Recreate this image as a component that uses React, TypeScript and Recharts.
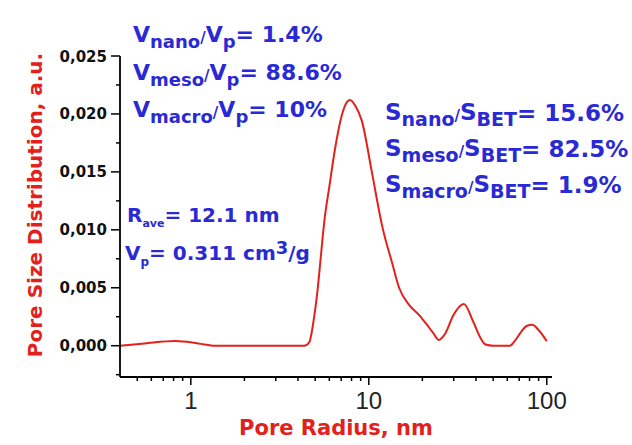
// Pore size distribution chart
import { Line, LineChart, XAxis, YAxis } from 'recharts';

// Data
const radius = [0.4, 0.55, 0.82, 1.1, 1.38, 2, 3, 4, 4.34, 4.63, 4.9, 5.17, 5.4, 5.63, 6.0, 6.43, 7.03, 7.45, 7.84, 8.4, 9.14, 10.4, 11.9, 13.6, 14.8, 16.9, 19.3, 21, 23, 24.7, 27, 29.8, 34.2, 38.8, 42, 45.3, 50, 55, 62, 66, 71.8, 77, 83, 89.4, 95, 100];
const psd = [0.0, 0.0002, 0.0004, 0.0002, 0.0, 0.0, 0.0, 0.0, 0.0, 0.0003, 0.0022, 0.005, 0.008, 0.0108, 0.0137, 0.0168, 0.0198, 0.0209, 0.0212, 0.0207, 0.0194, 0.015, 0.0103, 0.007, 0.005, 0.0035, 0.0026, 0.0019, 0.0011, 0.0005, 0.0011, 0.0026, 0.0036, 0.002, 0.0008, 0.0001, 0.0, 0.0, 0.0, 0.0004, 0.0012, 0.0017, 0.0018, 0.0014, 0.0009, 0.0004];

const xMajorTicks = [1, 10, 100];
const xMinorTicks = [0.5, 0.6, 0.7, 0.8, 0.9, 2, 3, 4, 5, 6, 7, 8, 9, 20, 30, 40, 50, 60, 70, 80, 90];
const yMajorTicks = [0, 0.005, 0.01, 0.015, 0.02, 0.025];
const yMinorTicks = [-0.0025, 0.0025, 0.0075, 0.0125, 0.0175, 0.0225];

const data = radius.map((r, i) => ({ r, v: psd[i] }));

const BLUE = '#2a2ad4';
const RED = '#e3211c';
const BOLD = '"DejaVu Sans", sans-serif';

const XTick = (props: any) => {
    const { x, y, payload } = props;
    const major = xMajorTicks.includes(payload.value);
    return (
        <g>
            <line x1={x} x2={x} y1={y} y2={y + (major ? 8 : 4)} stroke="#000" strokeWidth={1.5} />
            {major && (
                <text x={x} y={y + 32} textAnchor="middle" fontFamily='"Liberation Sans", Arial' fontSize={24} fill="#222">
                    {payload.value}
                </text>
            )}
        </g>
    );
};

const YTick = (props: any) => {
    const { x, y, payload } = props;
    const major = yMajorTicks.includes(payload.value);
    return (
        <g>
            <line x1={x} x2={x - (major ? 9 : 4)} y1={y} y2={y} stroke="#000" strokeWidth={1.5} />
            {major && (
                <text x={x - 13} y={y + 5.5} textAnchor="end" fontFamily={BOLD} fontWeight="bold" fontSize={15} fill="#111">
                    {payload.value.toFixed(3).replace('.', ',')}
                </text>
            )}
        </g>
    );
};

const App = () => {
    return (
        <div style={{ position: 'absolute', left: 0, top: 0, width: 632, height: 445, background: '#fff' }}>
            <LineChart width={632} height={445} data={data} margin={{ top: 56, right: 80, bottom: 0, left: 0 }}>
                <XAxis
                    dataKey="r"
                    type="number"
                    scale="log"
                    domain={[0.4, 107]}
                    allowDataOverflow
                    ticks={[...xMajorTicks, ...xMinorTicks]}
                    interval={0}
                    height={68}
                    tickSize={0}
                    tickMargin={0}
                    tickLine={false}
                    tick={<XTick />}
                    axisLine={{ stroke: '#000', strokeWidth: 1.8 }}
                />
                <YAxis
                    type="number"
                    domain={[-0.0027, 0.025]}
                    allowDataOverflow
                    ticks={[...yMajorTicks, ...yMinorTicks]}
                    interval={0}
                    width={120}
                    tickSize={0}
                    tickMargin={0}
                    tickLine={false}
                    tick={<YTick />}
                    axisLine={{ stroke: '#000', strokeWidth: 1.8 }}
                />
                <Line type="monotone" dataKey="v" stroke={RED} strokeWidth={2} dot={false} isAnimationActive={false} />
            </LineChart>

            <svg width={632} height={445} style={{ position: 'absolute', left: 0, top: 0, pointerEvents: 'none' }}
                fontFamily={BOLD} fontWeight="bold">
                {/* axis titles */}
                <text x={336} y={435} textAnchor="middle" fontSize={21} fill={RED}>Pore Radius, nm</text>
                <text transform="translate(42,205) rotate(-90)" textAnchor="middle" fontSize={20} fill={RED}>
                    Pore Size Distribution, a.u.
                </text>

                {/* volume fractions */}
                <g fill={BLUE}>
                    <text x={133} y={42} fontSize={22}>
                        <tspan>V</tspan>
                        <tspan fontSize={18} dy={6}>nano</tspan>
                        <tspan fontSize={15} dy={-5}>/</tspan>
                        <tspan fontSize={22} dy={-1}>V</tspan>
                        <tspan fontSize={18} dy={6}>p</tspan>
                        <tspan fontSize={22} dy={-6}>= 1.4%</tspan>
                    </text>
                    <text x={133} y={80} fontSize={22}>
                        <tspan>V</tspan>
                        <tspan fontSize={18} dy={6}>meso</tspan>
                        <tspan fontSize={15} dy={-5}>/</tspan>
                        <tspan fontSize={22} dy={-1}>V</tspan>
                        <tspan fontSize={18} dy={6}>p</tspan>
                        <tspan fontSize={22} dy={-6}>= 88.6%</tspan>
                    </text>
                    <text x={133} y={117} fontSize={22}>
                        <tspan>V</tspan>
                        <tspan fontSize={18} dy={6}>macro</tspan>
                        <tspan fontSize={15} dy={-5}>/</tspan>
                        <tspan fontSize={22} dy={-1}>V</tspan>
                        <tspan fontSize={18} dy={6}>p</tspan>
                        <tspan fontSize={22} dy={-6}>= 10%</tspan>
                    </text>

                    {/* surface fractions */}
                    <text x={385} y={120} fontSize={23}>
                        <tspan>S</tspan>
                        <tspan fontSize={19} dy={6}>nano</tspan>
                        <tspan fontSize={15} dy={-5}>/</tspan>
                        <tspan fontSize={23} dy={-1}>S</tspan>
                        <tspan fontSize={19} dy={6}>BET</tspan>
                        <tspan fontSize={23} dy={-5}>= 15.6%</tspan>
                    </text>
                    <text x={385} y={156} fontSize={23}>
                        <tspan>S</tspan>
                        <tspan fontSize={19} dy={6}>meso</tspan>
                        <tspan fontSize={15} dy={-5}>/</tspan>
                        <tspan fontSize={23} dy={-1}>S</tspan>
                        <tspan fontSize={19} dy={6}>BET</tspan>
                        <tspan fontSize={23} dy={-5}>= 82.5%</tspan>
                    </text>
                    <text x={385} y={192} fontSize={23}>
                        <tspan>S</tspan>
                        <tspan fontSize={19} dy={6}>macro</tspan>
                        <tspan fontSize={15} dy={-5}>/</tspan>
                        <tspan fontSize={23} dy={-1}>S</tspan>
                        <tspan fontSize={19} dy={6}>BET</tspan>
                        <tspan fontSize={23} dy={-5}>= 1.9%</tspan>
                    </text>

                    {/* average radius, pore volume */}
                    <text x={127} y={222} fontSize={20}>
                        <tspan>R</tspan>
                        <tspan fontSize={11} dy={5}>ave</tspan>
                        <tspan fontSize={20} dy={-5}>= 12.1 nm</tspan>
                    </text>
                    <text x={125} y={260} fontSize={20}>
                        <tspan>V</tspan>
                        <tspan fontSize={12} dy={6}>p</tspan>
                        <tspan fontSize={20} dy={-6}>= 0.311 cm</tspan>
                        <tspan fontSize={18} dy={-6}>3</tspan>
                        <tspan fontSize={20} dy={6}>/g</tspan>
                    </text>
                </g>
            </svg>
        </div>
    );
};

export default App;
